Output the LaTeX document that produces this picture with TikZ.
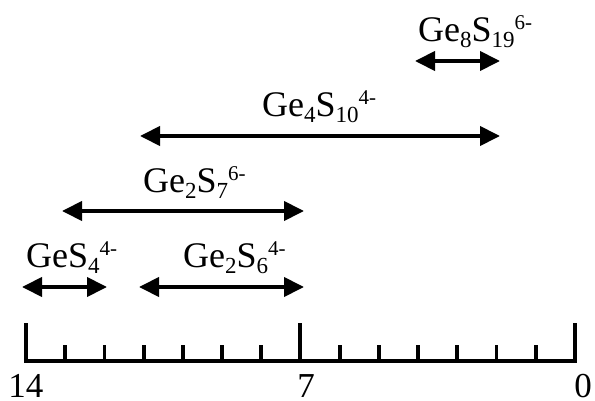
\documentclass[tikz,border=0pt]{standalone}
\usepackage{fontspec}
\setmainfont{Liberation Serif}
\usetikzlibrary{arrows.meta}
\newcommand\lsub[1]{\raisebox{-6pt}{\fontsize{23}{25}\selectfont #1}}
\newcommand\lsup[1]{\raisebox{12pt}{\fontsize{21}{23}\selectfont #1}}
\tikzset{
  axisline/.style={line width=4.5pt, line join=miter, line cap=rect},
  minortick/.style={line width=3.8pt},
  spanarrow/.style={line width=4pt, {Triangle[length=20pt,width=19pt]}-{Triangle[length=20pt,width=19pt]}},
  lbl/.style={inner sep=0pt, anchor=base west, font=\fontsize{36}{40}\selectfont},
  num/.style={inner sep=0pt, anchor=base, font=\fontsize{35}{40}\selectfont},
}
\begin{document}
\begin{tikzpicture}[x=1pt,y=-1pt]
\useasboundingbox (0,0) rectangle (595,401);
% axis
\coordinate (a14) at (26,361);
\coordinate (a7) at (300,361);
\coordinate (a0) at (575,361);
\draw[axisline] (26,325) -- (a14) -- (a0) -- (575,325);
\draw[axisline] (300,325) -- (a7);
\foreach \k in {1,...,6,8,9,...,13} {
  \draw[minortick] ({26+\k*39.214},345) -- ({26+\k*39.214},361);
}
\node[num] (n14) at (26,397) {14};
\node[num] (n7) at (306,397) {7};
\node[num] (n0) at (583,397) {0};
% ranges
\coordinate (r1a) at (22,287);  \coordinate (r1b) at (107,287);
\coordinate (r2a) at (139,287); \coordinate (r2b) at (304,287);
\coordinate (r3a) at (62,211);  \coordinate (r3b) at (304,211);
\coordinate (r4a) at (140,136); \coordinate (r4b) at (500,136);
\coordinate (r5a) at (415,61);  \coordinate (r5b) at (500,61);
\draw[spanarrow] (r1a) -- (r1b);
\draw[spanarrow] (r2a) -- (r2b);
\draw[spanarrow] (r3a) -- (r3b);
\draw[spanarrow] (r4a) -- (r4b);
\draw[spanarrow] (r5a) -- (r5b);
% labels
\node[lbl] (l1) at (26,267) {GeS\lsub{4}\lsup{4-}};
\node[lbl] (l2) at (183,267) {Ge\lsub{2}S\lsub{6}\lsup{4-}};
\node[lbl] (l3) at (143,193) {Ge\lsub{2}S\lsub{7}\lsup{6-}};
\node[lbl] (l4) at (262,117) {Ge\lsub{4}S\lsub{10}\lsup{4-}};
\node[lbl] (l5) at (418,42) {Ge\lsub{8}S\lsub{19}\lsup{6-}};
\end{tikzpicture}
\end{document}
